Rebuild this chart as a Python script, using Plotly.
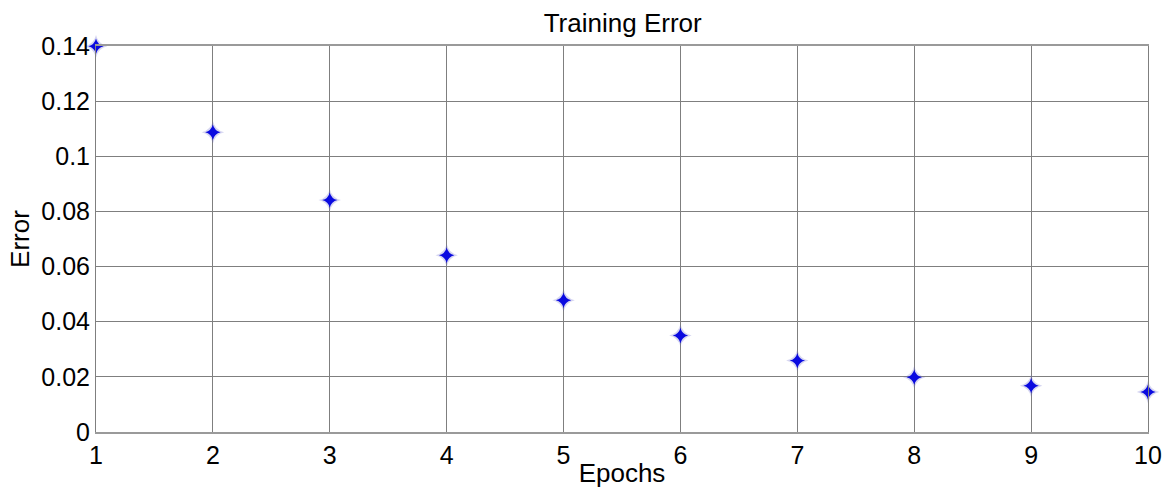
import plotly.graph_objects as go

epochs = [1, 2, 3, 4, 5, 6, 7, 8, 9, 10]
errors = [0.1399, 0.1087, 0.0841, 0.0641, 0.0478, 0.0350, 0.0259, 0.0199, 0.0168, 0.0145]
x_ticks = [1, 2, 3, 4, 5, 6, 7, 8, 9, 10]
y_ticks = [0, 0.02, 0.04, 0.06, 0.08, 0.1, 0.12, 0.14]
y_tick_labels = ["0", "0.02", "0.04", "0.06", "0.08", "0.1", "0.12", "0.14"]

font = "Liberation Sans, Arial, sans-serif"

fig = go.Figure()
fig.add_trace(go.Scatter(
    x=epochs, y=errors, mode="markers", cliponaxis=False,
    marker=dict(symbol="star-diamond", size=16, color="rgba(90,90,200,0.25)", line=dict(width=0)),
    hoverinfo="skip", showlegend=False,
))
fig.add_trace(go.Scatter(
    x=epochs, y=errors, mode="markers", cliponaxis=False,
    marker=dict(symbol="star-diamond", size=11, color="#0a0ae0", line=dict(width=0)),
    showlegend=False,
))

fig.update_layout(
    width=1172, height=488,
    margin=dict(l=96, r=24, t=46, b=56),
    paper_bgcolor="white", plot_bgcolor="white",
    font=dict(family=font, size=24, color="black"),
    title=dict(text="Training Error", x=0.5313, xanchor="center", y=0.935, yanchor="bottom",
               font=dict(size=26, family=font, color="black")),
)
fig.update_xaxes(
    range=[1, 10], tickvals=x_ticks, ticktext=[str(t) for t in x_ticks],
    showgrid=True, gridcolor="#7f7f7f", gridwidth=1,
    showline=True, linecolor="#9a9a9a", linewidth=2, mirror=True,
    zeroline=False, ticks="", tickfont=dict(size=25), automargin=False,
    title=dict(text="Epochs", font=dict(size=26), standoff=6),
)
fig.update_yaxes(
    range=[0, 0.14], tickvals=y_ticks, ticktext=y_tick_labels,
    showgrid=True, gridcolor="#7f7f7f", gridwidth=1,
    showline=True, linecolor="#7f7f7f", linewidth=1, mirror=True,
    zeroline=False, ticks="", tickfont=dict(size=25), automargin=False,
    title=dict(text="Error", font=dict(size=26), standoff=4),
)

fig.write_html("out.html", config={"displayModeBar": False},
               post_script="document.body.style.margin='0';document.body.style.overflow='hidden';")
